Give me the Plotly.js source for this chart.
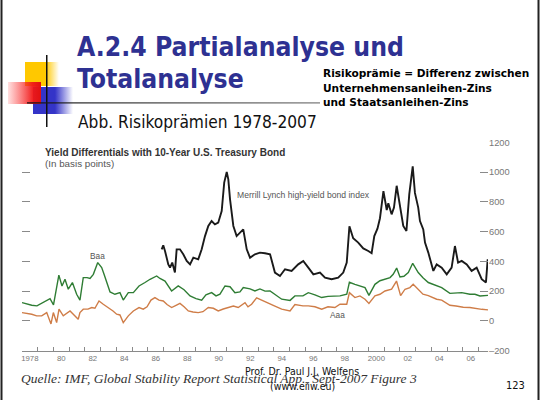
<!DOCTYPE html>
<html>
<head>
<meta charset="utf-8">
<script src="https://cdn.plot.ly/plotly-3.0.1.min.js"></script>
<style>html,body{margin:0;padding:0;background:#fff;}#chart{width:540px;height:400px;}</style>
</head>
<body>
<div id="chart"></div>
<script>
// ---------- data ----------
const baaYears = [1978.0,1978.62,1978.95,1979.46,1979.78,1980.0,1980.14,1980.34,1980.54,1980.73,1980.94,1981.2,1981.47,1981.68,1981.89,1982.13,1982.32,1982.53,1982.81,1983.06,1983.21,1983.4,1983.59,1983.9,1984.22,1984.43,1984.75,1985.07,1985.43,1985.81,1986.13,1986.55,1986.76,1987.08,1987.5,1987.92,1988.29,1988.67,1989.05,1989.41,1989.68,1990.04,1990.32,1990.57,1990.89,1991.21,1991.52,1991.84,1992.05,1992.48,1992.79,1993.11,1993.43,1993.75,1994.06,1994.49,1995.02,1995.33,1995.84,1996.18,1996.6,1997.03,1997.43,1997.87,1998.19,1998.62,1998.79,1999.14,1999.46,1999.78,2000.03,2000.41,2000.73,2001.05,2001.37,2001.57,2001.79,2002.0,2002.25,2002.53,2002.81,2003.16,2003.46,2003.8,2004.33,2004.65,2005.17,2005.6,2005.92,2006.44,2006.76,2007.08,2007.59];
const baaVals  = [123,105,101,134,150,108,190,308,235,280,213,258,179,140,291,291,285,313,392,358,313,260,195,179,190,140,190,190,235,258,280,302,285,268,201,235,210,168,150,140,175,190,168,180,235,230,190,195,224,215,201,215,200,201,180,146,138,168,168,190,175,157,165,168,168,179,260,246,235,224,172,246,270,280,291,313,355,295,300,325,387,325,290,258,235,224,185,190,190,179,179,168,172];

const aaaYears = [1978.0,1978.62,1978.93,1979.25,1979.57,1979.84,1979.99,1980.2,1980.35,1980.62,1981.05,1981.37,1981.57,1981.68,1981.89,1982.19,1982.43,1982.63,1982.89,1983.16,1983.48,1983.78,1984.01,1984.22,1984.43,1984.75,1985.07,1985.43,1985.7,1985.94,1986.19,1986.44,1986.7,1986.97,1987.21,1987.5,1987.78,1988.03,1988.29,1988.56,1988.86,1989.19,1989.49,1989.83,1990.15,1990.46,1990.78,1991.1,1991.42,1991.73,1991.97,1992.16,1992.35,1992.58,1992.9,1993.24,1993.64,1994.06,1994.49,1995.02,1995.33,1995.84,1996.18,1996.6,1997.03,1997.43,1997.87,1998.19,1998.62,1998.79,1999.14,1999.46,1999.78,2000.03,2000.41,2000.73,2001.05,2001.47,2001.78,2002.04,2002.32,2002.63,2002.84,2003.16,2003.46,2003.8,2004.33,2004.65,2005.17,2005.56,2006.02,2006.44,2006.87,2007.2,2007.59];
const aaaVals  = [56,45,34,34,56,-20,56,-11,79,34,67,34,11,56,79,79,90,85,134,112,90,67,45,40,-11,34,67,90,79,95,140,157,140,134,110,90,105,118,95,67,60,56,62,90,85,67,80,90,100,90,110,123,95,112,155,140,123,100,79,67,110,101,101,95,79,95,90,112,112,190,157,168,146,118,168,179,201,213,268,170,213,224,246,213,180,170,146,140,105,100,92,90,82,78,74];

const hyYears = [1986.87,1986.97,1987.08,1987.29,1987.4,1987.54,1987.71,1987.82,1988.03,1988.24,1988.46,1988.67,1988.88,1989.19,1989.41,1989.62,1989.83,1990.04,1990.25,1990.46,1990.68,1990.84,1991.0,1991.1,1991.21,1991.42,1991.63,1991.84,1992.05,1992.27,1992.48,1992.79,1993.11,1993.43,1993.75,1994.06,1994.38,1994.7,1995.12,1995.54,1995.86,1996.18,1996.5,1996.92,1997.24,1997.66,1998.08,1998.4,1998.62,1998.79,1999.03,1999.35,1999.67,1999.99,2000.2,2000.37,2000.57,2000.73,2000.95,2001.16,2001.26,2001.47,2001.62,2001.79,2002.0,2002.21,2002.41,2002.59,2002.81,2002.95,2003.16,2003.27,2003.48,2003.59,2003.8,2004.01,2004.12,2004.33,2004.65,2004.97,2005.28,2005.49,2005.69,2005.92,2006.24,2006.55,2006.87,2007.19,2007.46,2007.57];
const hyVals  = [481,508,470,380,358,392,325,481,481,448,403,380,425,414,481,570,638,671,649,660,738,929,1000,951,817,638,570,593,615,481,425,448,459,455,448,325,302,347,336,380,403,358,313,325,291,280,291,325,392,636,555,526,487,470,455,570,620,690,872,745,790,716,761,908,780,638,604,850,1038,860,761,671,615,526,459,369,336,380,358,313,358,503,392,403,380,336,358,280,258,414];

const xLabelPos  = [1978.5,1980.5,1982.5,1984.5,1986.5,1988.5,1990.5,1992.5,1994.5,1996.5,1998.5,2000.5,2002.5,2004.5,2006.5];
const xLabels    = ['1978','80','82','84','86','88','90','92','94','96','98','2000','02','04','06'];
const yTickVals  = [-200,0,200,400,600,800,1000,1200];
const yTickText  = ['\u2013200','0','200','400','600','800','1000','1200'];

// ---------- helpers for placing text in pixel terms ----------
const W = 540, H = 400;
const px = v => v / W;
const py = v => 1 - v / H;

const sansC = "'DejaVu Sans Condensed', 'Liberation Sans', sans-serif";
const sans = "'DejaVu Sans', 'Liberation Sans', sans-serif";
const chartFont = "'Liberation Sans', Arial, sans-serif";

const traces = [
  {x: aaaYears, y: aaaVals, type: 'scatter', mode: 'lines', line: {color: '#cf7d48', width: 1.4}, showlegend: false, hoverinfo: 'skip'},
  {x: baaYears, y: baaVals, type: 'scatter', mode: 'lines', line: {color: '#2f7d34', width: 1.4}, showlegend: false, hoverinfo: 'skip'},
  {x: hyYears, y: hyVals, type: 'scatter', mode: 'lines', line: {color: '#1a1a1a', width: 1.9}, showlegend: false, hoverinfo: 'skip'},
  {x: [1978], y: [null], xaxis: 'x2', type: 'scatter', mode: 'lines', showlegend: false, hoverinfo: 'skip'}
];

const decorSvg = `<svg xmlns="http://www.w3.org/2000/svg" width="540" height="400" viewBox="0 0 540 400">
<defs>
<linearGradient id="gy" x1="0" x2="1" y1="0" y2="0"><stop offset="0" stop-color="#ffc800"/><stop offset="0.6" stop-color="#ffc800"/><stop offset="1" stop-color="#ffc800" stop-opacity="0"/></linearGradient>
<linearGradient id="gr" x1="0" x2="1" y1="0" y2="0"><stop offset="0" stop-color="#ff3030" stop-opacity="0.15"/><stop offset="0.75" stop-color="#f01818" stop-opacity="0.95"/><stop offset="1" stop-color="#e01010"/></linearGradient>
<linearGradient id="gb" x1="0" x2="1" y1="0" y2="0"><stop offset="0" stop-color="#3434c8"/><stop offset="0.55" stop-color="#3434c8"/><stop offset="1" stop-color="#3434c8" stop-opacity="0"/></linearGradient>
<linearGradient id="gl" x1="0" x2="1" y1="0" y2="0"><stop offset="0" stop-color="#111"/><stop offset="0.3" stop-color="#333"/><stop offset="1" stop-color="#777"/></linearGradient>
</defs>
<rect x="25" y="62" width="34" height="24" fill="url(#gy)"/>
<rect x="33" y="87" width="40" height="27" fill="url(#gb)"/>
<rect x="8" y="82" width="33" height="22" fill="url(#gr)"/>
<rect x="46" y="55" width="1.5" height="72" fill="#111"/>
<rect x="27" y="102.3" width="293" height="1.2" fill="url(#gl)"/>
<rect x="0.5" y="0" width="2" height="400" fill="#222"/>
<rect x="537.5" y="0" width="2" height="400" fill="#222"/>
</svg>`;

const annotations = [
  {text: 'A.2.4 Partialanalyse und', x: px(75), y: py(47), font: {family: sansC, size: 26.3, color: '#2e3192', weight: 'bold'}},
  {text: 'Totalanalyse', x: px(75), y: py(79), font: {family: sansC, size: 26.3, color: '#2e3192', weight: 'bold'}},
  {text: 'Risikoprämie = Differenz zwischen', x: px(321), y: py(73), font: {family: sans, size: 10.6, color: '#000', weight: 'bold'}},
  {text: 'Unternehmensanleihen-Zins', x: px(321), y: py(88), font: {family: sans, size: 10.6, color: '#000', weight: 'bold'}},
  {text: 'und Staatsanleihen-Zins', x: px(321), y: py(102.5), font: {family: sans, size: 10.6, color: '#000', weight: 'bold'}},
  {text: 'Abb. Risikoprämien 1978-2007', x: px(76), y: py(122), font: {family: sansC, size: 17.2, color: '#111'}},
  {text: 'Yield Differentials with 10-Year U.S. Treasury Bond', x: px(43), y: py(152), font: {family: chartFont, size: 10, color: '#333', weight: 'bold'}},
  {text: '(In basis points)', x: px(43), y: py(163.5), font: {family: chartFont, size: 9.8, color: '#555'}},
  {text: 'Merrill Lynch high-yield bond index', x: px(235), y: py(195), font: {family: chartFont, size: 8.6, color: '#555'}},
  {text: 'Baa', x: px(97), y: py(256), xanchor: 'center', font: {family: chartFont, size: 8.3, color: '#555'}},
  {text: 'Aaa', x: px(337), y: py(315), xanchor: 'center', font: {family: chartFont, size: 8.3, color: '#555'}},
  {text: 'Quelle: IMF, Global Stability Report Statistical App., Sept-2007 Figure 3', x: px(19), y: py(378), font: {family: "'Liberation Serif', 'Times New Roman', serif", size: 13.5, color: '#333', style: 'italic'}},
  {text: 'Prof. Dr. Paul J.J. Welfens', x: px(302), y: py(370.5), xanchor: 'center', font: {family: sansC, size: 10.5, color: '#111'}},
  {text: '(www.eiiw.eu)', x: px(302), y: py(385.5), xanchor: 'center', font: {family: sansC, size: 10.5, color: '#111'}},
  {text: '123', x: px(515), y: py(385), xanchor: 'center', font: {family: sansC, size: 11, color: '#111'}}
].map(a => Object.assign({xref: 'paper', yref: 'paper', xanchor: 'left', yanchor: 'middle', showarrow: false}, a));

const xDomain = [px(22), px(488)];
const xRange = [1978, 2007.59];

const layout = {
  width: W, height: H,
  margin: {l: 0, r: 0, t: 0, b: 0},
  paper_bgcolor: '#ffffff', plot_bgcolor: 'rgba(0,0,0,0)',
  showlegend: false,
  xaxis: {
    domain: xDomain, range: xRange, anchor: 'y',
    tickmode: 'array', tickvals: xLabelPos, ticktext: xLabels, ticks: '',
    showline: true, linecolor: '#8a8a8a', linewidth: 1,
    showgrid: false, zeroline: false,
    tickfont: {family: chartFont, size: 7.8, color: '#777'}
  },
  xaxis2: {
    domain: xDomain, range: xRange, anchor: 'y', overlaying: 'x', side: 'bottom',
    tickmode: 'linear', tick0: 1978, dtick: 1, ticks: 'inside', ticklen: 4, tickwidth: 1, tickcolor: '#8a8a8a',
    showticklabels: false, showline: false, showgrid: false, zeroline: false
  },
  yaxis: {
    domain: [py(350.7), py(142.3)], range: [-200, 1200], anchor: 'x', side: 'right',
    tickmode: 'array', tickvals: yTickVals, ticktext: yTickText,
    ticks: 'inside', ticklen: 8, tickwidth: 1, tickcolor: '#8a8a8a', mirror: 'ticks',
    showline: false, showgrid: false, zeroline: false,
    tickfont: {family: chartFont, size: 9.3, color: '#777'}
  },
  images: [{
    source: 'data:image/svg+xml;charset=utf-8,' + encodeURIComponent(decorSvg),
    xref: 'paper', yref: 'paper', x: 0, y: 1, sizex: 1, sizey: 1,
    xanchor: 'left', yanchor: 'top', sizing: 'stretch', layer: 'below'
  }],
  annotations: annotations
};

Plotly.newPlot('chart', traces, layout, {staticPlot: true, displayModeBar: false});
</script>
</body>
</html>
